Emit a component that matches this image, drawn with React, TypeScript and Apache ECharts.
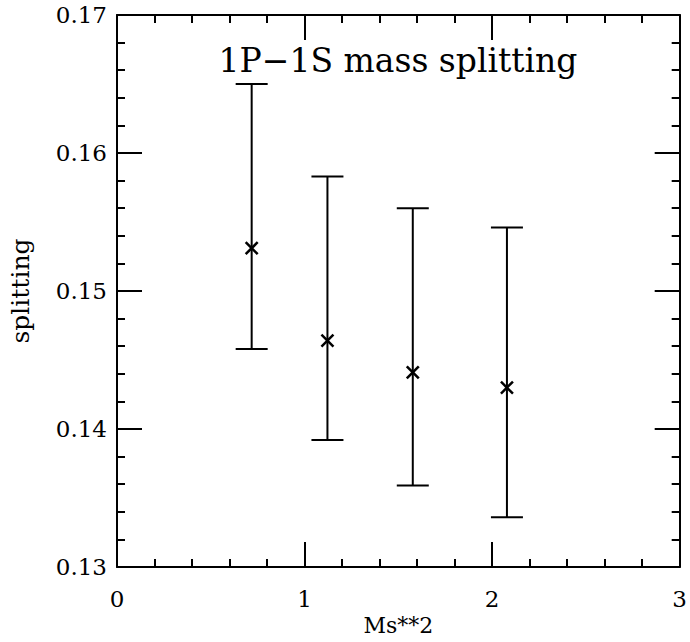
import React, { useEffect, useRef } from "react";
import * as echarts from "echarts";

const msSquared = [0.718, 1.122, 1.577, 2.079];
const splitting = [0.1531, 0.1464, 0.1441, 0.143];
const errLow = [0.1458, 0.1392, 0.1359, 0.1336];
const errHigh = [0.165, 0.1583, 0.156, 0.1546];
const xTicks = [0, 1, 2, 3];
const yTicks = [0.13, 0.14, 0.15, 0.16, 0.17];
const titleText = "1P\u22121S mass splitting";
const xName = "Ms**2";
const yName = "splitting";

const FONT = "DejaVu Serif";

export default function App() {
  const ref = useRef<HTMLDivElement>(null);
  useEffect(() => {
    if (!ref.current) return;
    const chart = echarts.init(ref.current, undefined, { renderer: "svg" });
    const data = msSquared.map((x, i) => [x, splitting[i], errLow[i], errHigh[i]]);
    const lineStyle = { color: "#000", width: 2 };
    const common = {
      type: "value" as const,
      axisLine: { show: true, onZero: false, lineStyle },
      axisTick: { show: true, inside: true, length: 25, lineStyle },
      minorTick: { show: true, splitNumber: 5, length: 8, lineStyle },
      splitLine: { show: false },
      minorSplitLine: { show: false },
    };
    chart.setOption({
      animation: false,
      backgroundColor: "#fff",
      grid: { left: 117, top: 15, right: 6, bottom: 75 },
      graphic: [
        {
          type: "text",
          x: 398,
          y: 60,
          style: {
            text: titleText,
            fontFamily: FONT,
            fontSize: 33,
            fill: "#000",
            textAlign: "center",
            textVerticalAlign: "middle",
          },
        },
      ],
      xAxis: [
        {
          ...common,
          position: "bottom",
          min: xTicks[0],
          max: xTicks[xTicks.length - 1],
          interval: 1,
          axisLabel: {
            color: "#000",
            fontFamily: FONT,
            fontSize: 23,
            margin: 20,
            formatter: (v: number) => String(v),
          },
          name: xName,
          nameLocation: "middle",
          nameGap: 40,
          nameTextStyle: { color: "#000", fontFamily: FONT, fontSize: 22 },
        },
        {
          ...common,
          position: "top",
          min: xTicks[0],
          max: xTicks[xTicks.length - 1],
          interval: 1,
          axisLabel: { show: false },
        },
      ],
      yAxis: [
        {
          ...common,
          position: "left",
          min: yTicks[0],
          max: yTicks[yTicks.length - 1],
          interval: 0.01,
          axisLabel: {
            color: "#000",
            fontFamily: FONT,
            fontSize: 23,
            margin: 10,
            formatter: (v: number) => v.toFixed(2),
          },
          name: yName,
          nameLocation: "middle",
          nameGap: 84,
          nameTextStyle: { color: "#000", fontFamily: FONT, fontSize: 25 },
        },
        {
          ...common,
          position: "right",
          min: yTicks[0],
          max: yTicks[yTicks.length - 1],
          interval: 0.01,
          axisLabel: { show: false },
        },
      ],
      series: [
        {
          type: "custom",
          xAxisIndex: 0,
          yAxisIndex: 0,
          data,
          encode: { x: 0, y: [1, 2, 3] },
          renderItem: (params: any, api: any) => {
            const x = api.value(0);
            const c = api.coord([x, api.value(1)]);
            const lo = api.coord([x, api.value(2)]);
            const hi = api.coord([x, api.value(3)]);
            const cap = 16;
            const m = 6;
            const st = { stroke: "#000", lineWidth: 2 };
            return {
              type: "group",
              children: [
                { type: "line", shape: { x1: lo[0], y1: lo[1], x2: hi[0], y2: hi[1] }, style: st },
                { type: "line", shape: { x1: lo[0] - cap, y1: lo[1], x2: lo[0] + cap, y2: lo[1] }, style: st },
                { type: "line", shape: { x1: hi[0] - cap, y1: hi[1], x2: hi[0] + cap, y2: hi[1] }, style: st },
                { type: "line", shape: { x1: c[0] - m, y1: c[1] - m, x2: c[0] + m, y2: c[1] + m }, style: { stroke: "#000", lineWidth: 2.5 } },
                { type: "line", shape: { x1: c[0] - m, y1: c[1] + m, x2: c[0] + m, y2: c[1] - m }, style: { stroke: "#000", lineWidth: 2.5 } },
              ],
            };
          },
        },
      ],
    });
    return () => chart.dispose();
  }, []);
  return (
    <div
      ref={ref}
      style={{ position: "fixed", left: 0, top: 0, width: 690, height: 642 }}
    />
  );
}
